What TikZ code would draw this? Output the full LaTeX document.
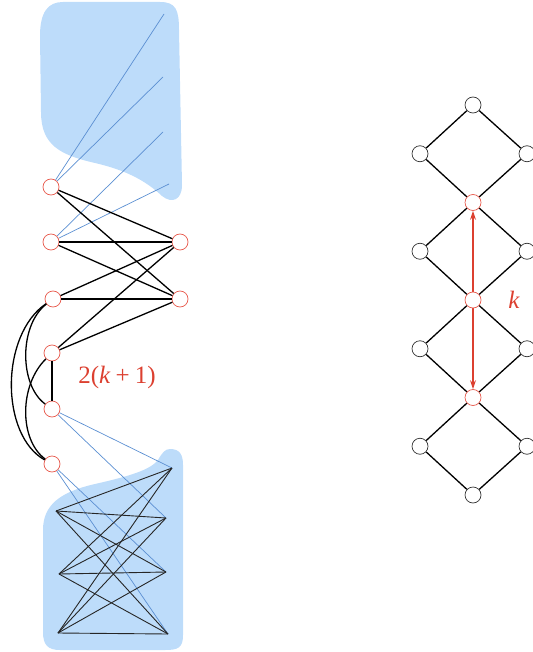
\documentclass[tikz,border=0pt]{standalone}
\usepackage{fontspec}
\usepackage{tikz}
\usetikzlibrary{arrows.meta,positioning,calc}
\newfontfamily\labfont{Liberation Serif}
\definecolor{blobblue}{HTML}{BDDCFA}
\definecolor{edgeblue}{HTML}{5B8FD2}
\definecolor{vred}{HTML}{E8594C}
\definecolor{labred}{HTML}{DC4030}
\definecolor{vgray}{HTML}{333333}
\pgfdeclarelayer{back}
\pgfdeclarelayer{mid}
\pgfsetlayers{back,mid,main}

\begin{document}
\begin{tikzpicture}[x=1pt,y=-1pt,
  rv/.style={circle,draw=vred,fill=white,line width=0.7pt,minimum size=16pt,inner sep=0pt},
  bv/.style={circle,draw=vgray,fill=white,line width=0.7pt,minimum size=16pt,inner sep=0pt},
  bl/.style={edgeblue,line width=0.7pt},
  bk/.style={black,line width=1.3pt},
  kk/.style={black!85,line width=0.9pt},
  lbl/.style={labred,inner sep=0pt,font=\labfont\fontsize{25}{30}\selectfont}]
\useasboundingbox (0,0) rectangle (532,652);

% blobs
\begin{pgfonlayer}{back}
\fill[blobblue] (63,2) -- (160,2) .. controls (176,2) and (179,10) .. (179,30)
  -- (182,185) .. controls (182,200) and (172,204) .. (162,196)
  .. controls (145,180) and (125,170) .. (95,163)
  .. controls (60,155) and (41,145) .. (41,112)
  -- (40,36) .. controls (40,12) and (48,2) .. (63,2) -- cycle;
\fill[blobblue] (170,449) .. controls (180,449) and (183,455) .. (183,465)
  -- (183,635) .. controls (183,648) and (178,650) .. (165,650)
  -- (60,650) .. controls (48,650) and (43,645) .. (43,632)
  -- (43,530) .. controls (43,505) and (60,492) .. (95,484)
  .. controls (130,476) and (150,470) .. (158,460)
  .. controls (162,453) and (165,449) .. (170,449) -- cycle;
\end{pgfonlayer}

% left graph
\node[rv] (a1) at (51,187) {};
\node[rv] (a2) at (51,242) {};
\node[rv] (a3) at (53,299) {};
\node[rv] (a4) at (52,353) {};
\node[rv] (a5) at (52,409) {};
\node[rv] (a6) at (52,464) {};
\node[rv] (b1) at (180,242) {};
\node[rv] (b2) at (180,299) {};

\coordinate (t1) at (164,14);
\coordinate (t2) at (163,77);
\coordinate (t3) at (163,132);
\coordinate (t4) at (169,184);
\coordinate (d1) at (56,511);
\coordinate (d2) at (59,574);
\coordinate (d3) at (58,633);
\coordinate (c1) at (172,468);
\coordinate (c2) at (166,518);
\coordinate (c3) at (166,572);
\coordinate (c4) at (168,634);

\begin{pgfonlayer}{mid}
\foreach \s/\t in {a1/t1,a1/t2,a2/t3,a2/t4,a5/c1,a5/c2,a6/c3,a6/c4}
  \draw[bl] (\s) -- (\t);
\foreach \s in {d1,d2,d3}{
  \foreach \t in {c1,c2,c3,c4}{
    \draw[kk] (\s) -- (\t);
  }
}
\end{pgfonlayer}

\foreach \s in {a1,a2,a3,a4}{
  \foreach \t in {b1,b2}{
    \draw[bk] (\s) -- (\t);
  }
}
\draw[bk] (a4) -- (a5);
\draw[bk] (a3) .. controls (19,325) and (19,385) .. (a5);
\draw[bk] (a3) .. controls (0,335) and (0,435) .. (a6);
\draw[bk] (a4) .. controls (19,385) and (19,440) .. (a6);

\node[lbl] (lab) at (117,377) {2(\textit{k}\hspace{5pt}+\hspace{5pt}1)};

% right lattice
\foreach \i in {0,8} \node[bv] (m\i) at (473,{105+48.75*\i}) {};
\foreach \i in {2,4,6} \node[rv] (m\i) at (473,{105+48.75*\i}) {};
\foreach \i in {1,3,5,7}{
  \node[bv] (l\i) at (420,{105+48.75*\i}) {};
  \node[bv] (r\i) at (527,{105+48.75*\i}) {};
}
\foreach \i in {1,3,5,7}{
  \pgfmathtruncatemacro\p{\i-1}
  \pgfmathtruncatemacro\n{\i+1}
  \draw[bk] (m\p) -- (l\i) -- (m\n);
  \draw[bk] (m\p) -- (r\i) -- (m\n);
}
\begin{pgfonlayer}{mid}
\draw[labred,line width=1.2pt,{Stealth[length=9pt,width=6pt]}-{Stealth[length=9pt,width=6pt]}]
  (m2) -- (m6);
\end{pgfonlayer}
\node[lbl] (klab) at (514,300) {\textit{k}};
\end{tikzpicture}
\end{document}
